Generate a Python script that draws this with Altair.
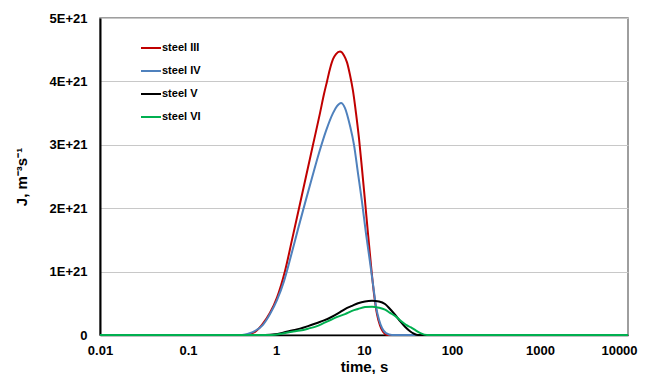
import altair as alt
import pandas as pd

# time (s) and nucleation rate J (in units of 1E+21 m^-3 s^-1)
series_names = ["steel III", "steel IV", "steel V", "steel VI"]
colors = ["#C00000", "#4F81BD", "#000000", "#00B050"]

t_III = [0.01, 0.3, 0.444, 0.577, 0.693, 0.855, 1.026, 1.266, 1.52, 1.826, 2.193, 2.633, 3.162, 3.511,
         3.798, 4.11, 4.444, 4.806, 5.337, 5.926, 6.411, 6.934, 7.499, 8.111, 8.773, 9.49, 10.26,
         11.10, 12.01, 12.99, 14.05, 15.20, 16.44, 18.25, 30, 10000]
J_III = [0, 0, 0, 0.05, 0.16, 0.35, 0.59, 1.01, 1.5, 2.0, 2.5, 3.0, 3.5, 3.8,
         4.0, 4.2, 4.35, 4.43, 4.47, 4.41, 4.3, 4.1, 3.85, 3.5, 3.1, 2.62, 2.12,
         1.6, 1.1, 0.65, 0.33, 0.15, 0.05, 0, 0, 0]

t_IV = [0.01, 0.3, 0.411, 0.533, 0.711, 0.855, 1.026, 1.233, 1.481, 1.778, 2.136, 2.566, 3.081, 3.7,
        4.444, 4.934, 5.479, 6.083, 6.934, 7.698, 8.546, 9.49, 10.54, 11.70, 12.66, 13.69, 14.81,
        16.02, 17.78, 20.81, 30, 10000]
J_IV = [0, 0, 0, 0.04, 0.16, 0.33, 0.55, 0.85, 1.25, 1.67, 2.08, 2.48, 2.87, 3.22,
        3.5, 3.61, 3.66, 3.58, 3.3, 3.0, 2.55, 2.1, 1.6, 1.15, 0.8, 0.45, 0.24,
        0.11, 0.03, 0, 0, 0]

t_V = [0.01, 0.75, 0.974, 1.201, 1.52, 1.874, 2.31, 2.924, 3.511, 4.217, 5.065, 6.083, 7.305, 8.546,
       10.26, 12.33, 14.81, 17.33, 19.75, 22.51, 25.66, 29.24, 33.33, 37.0, 41.08, 60, 10000]
J_V = [0, 0, 0.01, 0.036, 0.07, 0.1, 0.14, 0.19, 0.23, 0.28, 0.34, 0.41, 0.46, 0.5,
       0.53, 0.541, 0.53, 0.49, 0.41, 0.32, 0.22, 0.13, 0.06, 0.02, 0, 0, 0]

t_VI = [0.01, 0.901, 1.201, 1.52, 1.874, 2.31, 2.924, 3.511, 4.217, 5.065, 6.083, 7.305, 8.546, 10.26,
        12.33, 14.81, 17.33, 19.75, 23.10, 26.33, 30.01, 34.20, 38.99, 44.44, 51.99, 80, 10000]
J_VI = [0, 0, 0.025, 0.05, 0.07, 0.1, 0.14, 0.19, 0.24, 0.29, 0.33, 0.38, 0.41, 0.44,
        0.446, 0.43, 0.40, 0.35, 0.29, 0.22, 0.16, 0.12, 0.07, 0.025, 0, 0, 0]

x_ticks = [0.01, 0.1, 1, 10, 100, 1000, 10000]
y_ticks = [0, 1, 2, 3, 4, 5]

rows = []
for k, (name, ts, js) in enumerate(zip(series_names, [t_III, t_IV, t_V, t_VI], [J_III, J_IV, J_V, J_VI])):
    for t, j in zip(ts, js):
        rows.append({"series": name, "t": t, "J": j, "k": k})
df = pd.DataFrame(rows)

font = "Liberation Sans"

chart = alt.Chart(df).mark_line(strokeWidth=2, interpolate="monotone").encode(
    x=alt.X("t:Q",
            scale=alt.Scale(type="log", domain=[0.01, 10000], nice=False),
            axis=alt.Axis(title="time, s", values=x_ticks, format="~g", grid=False,
                          ticks=False, domainColor="#000000", domainWidth=1.5,
                          labelPadding=9, titlePadding=2,
                          labelOffset={"condition": {"test": "datum.value >= 10000", "value": -9}, "value": 0},
                          labelFont=font, labelFontSize=13, labelFontWeight="bold", labelColor="#000000",
                          titleFont=font, titleFontSize=15, titleFontWeight="bold", titleColor="#000000",
                          labelFlush=False)),
    y=alt.Y("J:Q",
            scale=alt.Scale(domain=[0, 5], nice=False),
            axis=alt.Axis(title="J, m⁻³s⁻¹", values=y_ticks,
                          labelExpr="datum.value == 0 ? '0' : datum.value + 'E+21'",
                          grid=True, gridColor="#C8C8C8", gridWidth=1.2,
                          ticks=False, domainColor="#000000", domainWidth=2,
                          labelPadding=13, titlePadding=20,
                          labelFont=font, labelFontSize=13, labelFontWeight="bold", labelColor="#000000",
                          titleFont=font, titleFontSize=15, titleFontWeight="bold", titleColor="#000000")),
    color=alt.Color("series:N",
                    scale=alt.Scale(domain=series_names, range=colors),
                    legend=alt.Legend(title=None, orient="none", legendX=40, legendY=19,
                                      symbolType="stroke", symbolSize=400, symbolStrokeWidth=2,
                                      labelFont=font, labelFontSize=11, labelFontWeight="bold",
                                      labelColor="#000000", rowPadding=7, labelOffset=0)),
    order=alt.Order("k:Q"),
    detail="series:N",
).properties(
    width=528,
    height=317,
    autosize=alt.AutoSizeParams(type="none"),
    padding={"left": 92, "top": 10, "right": 11, "bottom": 39},
).configure_view(
    stroke="#7F7F7F", strokeWidth=1.5
)

chart.save("out.html", embed_options={"renderer": "svg", "actions": False})
